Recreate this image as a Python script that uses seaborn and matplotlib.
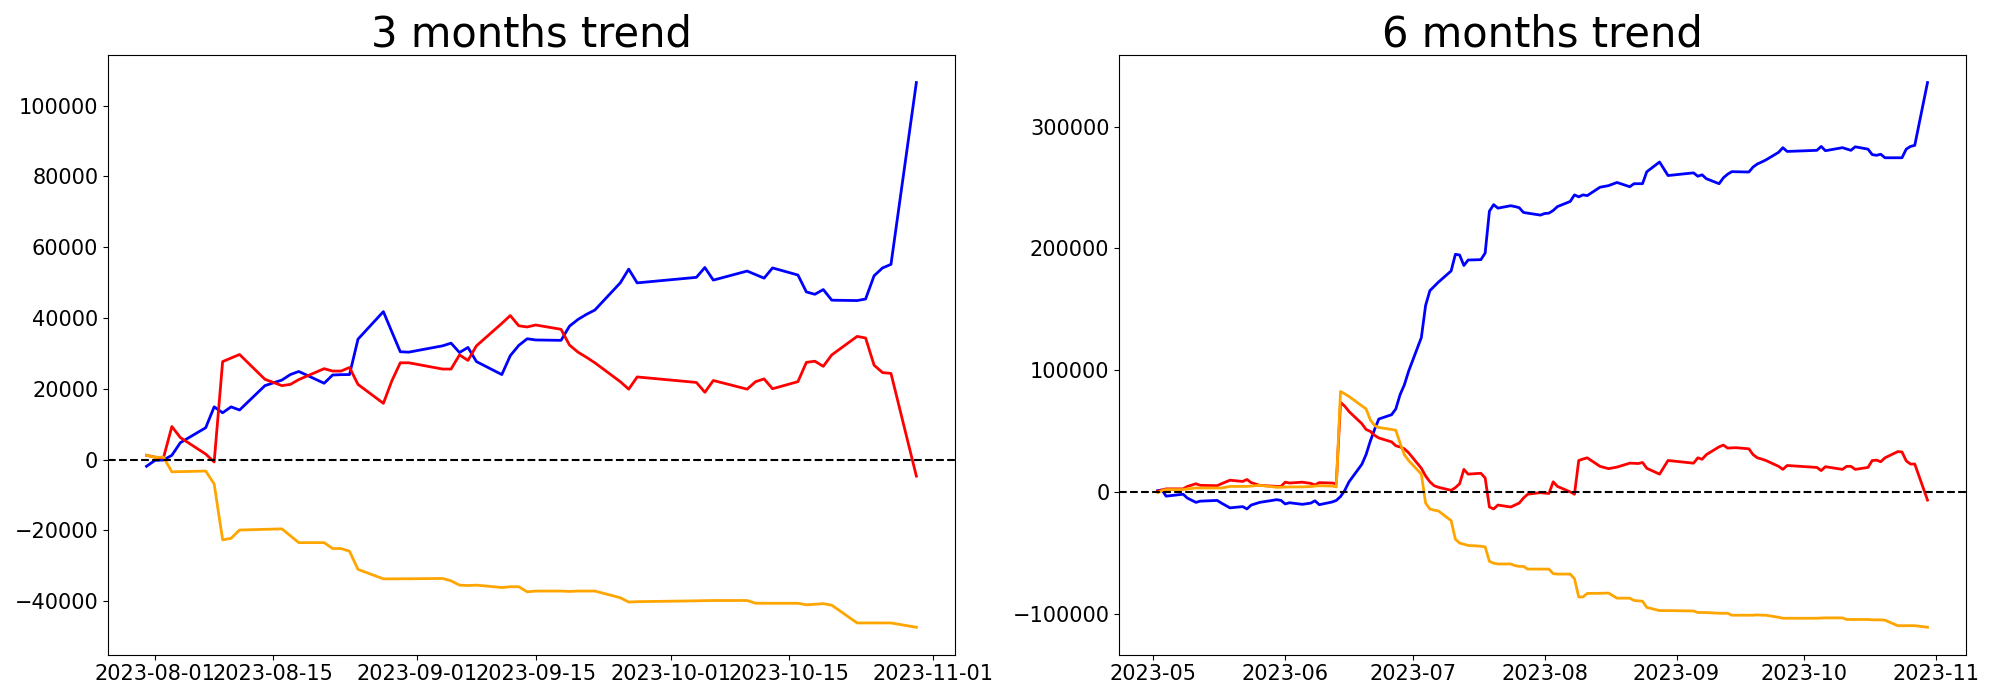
import pandas as pd
import matplotlib
matplotlib.use("Agg")
import matplotlib.pyplot as plt
import matplotlib.dates as mdates
import seaborn as sns

# 3 months window
three_dates = ["2023-07-31", "2023-08-01", "2023-08-02", "2023-08-03", "2023-08-04", "2023-08-07", "2023-08-08", "2023-08-09", "2023-08-10", "2023-08-11",
               "2023-08-14", "2023-08-16", "2023-08-17", "2023-08-18", "2023-08-21", "2023-08-22", "2023-08-23", "2023-08-24", "2023-08-25", "2023-08-28",
               "2023-08-29", "2023-08-30", "2023-08-31", "2023-09-04", "2023-09-05", "2023-09-06", "2023-09-07", "2023-09-08", "2023-09-11", "2023-09-12",
               "2023-09-13", "2023-09-14", "2023-09-15", "2023-09-18", "2023-09-19", "2023-09-20", "2023-09-21", "2023-09-22", "2023-09-25", "2023-09-26",
               "2023-09-27", "2023-10-04", "2023-10-05", "2023-10-06", "2023-10-10", "2023-10-11", "2023-10-12", "2023-10-13", "2023-10-16", "2023-10-17",
               "2023-10-18", "2023-10-19", "2023-10-20", "2023-10-23", "2023-10-24", "2023-10-25", "2023-10-26", "2023-10-27", "2023-10-30"]
three_blue = [-1890, -220, -110, 1220, 4780, 9010, 14900, 13230, 14900, 14010,
              20900, 22460, 24020, 24900, 21570, 23900, 24000, 24020, 34030, 41810,
              36100, 30470, 30360, 32140, 32900, 30250, 31690, 27690, 24020, 29360,
              32250, 34140, 33800, 33690, 37700, 39590, 41030, 42260, 49930, 53820,
              49930, 51490, 54270, 50710, 53270, 52260, 51260, 54150, 52150, 47370,
              46700, 48040, 45040, 44930, 45370, 51930, 54150, 55160, 106530]
three_red = [1220, 700, 450, 9340, 6230, 1560, -670, 27690, 28700, 29690,
             22680, 20900, 21240, 22600, 25690, 25020, 25020, 26020, 21240, 15900,
             22240, 27350, 27350, 25580, 25580, 29580, 28020, 32140, 38480, 40700,
             37810, 37470, 38030, 36810, 32360, 30360, 28910, 27350, 22020, 19900,
             23350, 21800, 19020, 22350, 19900, 22020, 22800, 20020, 22020, 27470,
             27800, 26350, 29580, 34810, 34360, 26690, 24580, 24350, -4670]
three_orange = [1220, 670, 670, -3450, -3400, -3230, -6890, -22680, -22240, -19900,
                -19700, -19570, -21500, -23460, -23460, -25130, -25130, -25910, -31020, -33690,
                -33690, -33680, -33680, -33580, -34250, -35470, -35580, -35470, -36140, -35920,
                -35920, -37360, -37140, -37140, -37250, -37140, -37140, -37140, -39030, -40250,
                -40140, -39900, -39850, -39810, -39810, -40590, -40590, -40590, -40590, -41030,
                -40870, -40700, -41140, -46150, -46150, -46150, -46150, -46150, -47370]

# 6 months window
six_dates = ["2023-05-02", "2023-05-03", "2023-05-04", "2023-05-08", "2023-05-09", "2023-05-11", "2023-05-12", "2023-05-16", "2023-05-17", "2023-05-19",
             "2023-05-22", "2023-05-23", "2023-05-24", "2023-05-26", "2023-05-30", "2023-05-31", "2023-06-01", "2023-06-02", "2023-06-05", "2023-06-07",
             "2023-06-08", "2023-06-09", "2023-06-12", "2023-06-13", "2023-06-14", "2023-06-15", "2023-06-16", "2023-06-19", "2023-06-20", "2023-06-21",
             "2023-06-22", "2023-06-23", "2023-06-26", "2023-06-27", "2023-06-28", "2023-06-29", "2023-06-30", "2023-07-03", "2023-07-04", "2023-07-05",
             "2023-07-06", "2023-07-07", "2023-07-10", "2023-07-11", "2023-07-12", "2023-07-13", "2023-07-14", "2023-07-17", "2023-07-18", "2023-07-19",
             "2023-07-20", "2023-07-21", "2023-07-24", "2023-07-25", "2023-07-26", "2023-07-27", "2023-07-28", "2023-07-31", "2023-08-01", "2023-08-02",
             "2023-08-03", "2023-08-04", "2023-08-07", "2023-08-08", "2023-08-09", "2023-08-10", "2023-08-11", "2023-08-14", "2023-08-16", "2023-08-18",
             "2023-08-21", "2023-08-22", "2023-08-23", "2023-08-24", "2023-08-25", "2023-08-28", "2023-08-30", "2023-09-05", "2023-09-06", "2023-09-07",
             "2023-09-08", "2023-09-11", "2023-09-12", "2023-09-13", "2023-09-14", "2023-09-15", "2023-09-18", "2023-09-19", "2023-09-20", "2023-09-21",
             "2023-09-22", "2023-09-25", "2023-09-26", "2023-09-27", "2023-10-04", "2023-10-05", "2023-10-06", "2023-10-10", "2023-10-11", "2023-10-12",
             "2023-10-13", "2023-10-16", "2023-10-17", "2023-10-18", "2023-10-19", "2023-10-20", "2023-10-23", "2023-10-24", "2023-10-25", "2023-10-26",
             "2023-10-27", "2023-10-30"]
six_blue = [1000, 1600, -3500, -1900, -5100, -8600, -7600, -7000, -9200, -13100,
            -12100, -14000, -10800, -8600, -6400, -7000, -9900, -8900, -10200, -9200,
            -7300, -10500, -8300, -7000, -3800, 1300, 8300, 22600, 30600, 41700,
            51300, 59900, 63400, 68200, 79900, 87900, 99100, 126800, 153200, 165300,
            168800, 172300, 181500, 195200, 194600, 186000, 190500, 190800, 196200, 230600,
            236000, 233100, 235100, 234400, 233500, 229600, 229000, 227400, 228700, 229000,
            231200, 234400, 238600, 244000, 242400, 244000, 243400, 250300, 251600, 254200,
            250700, 253200, 253200, 253200, 263000, 271000, 259900, 262100, 259300, 260500,
            257300, 253200, 258000, 261000, 263100, 263000, 262800, 266900, 269400, 271000,
            272700, 279000, 282800, 279700, 280600, 283800, 280300, 282800, 281700, 280600,
            283500, 281600, 277100, 276500, 277400, 274500, 274500, 274500, 281600, 283800,
            284700, 336300]
six_red = [600, 1500, 2500, 2500, 4500, 6700, 5400, 5100, 6700, 9600,
           8600, 10200, 7600, 5400, 4500, 4500, 8000, 7300, 8000, 7000,
           5700, 7600, 7300, 6700, 73600, 70400, 66000, 56100, 51300, 49700,
           46500, 44300, 41100, 37900, 36900, 35400, 32200, 19400, 13100, 8300,
           5100, 3800, 1300, 3500, 6700, 18500, 14600, 15300, 11500, -12400,
           -14000, -10800, -12400, -10800, -9200, -5100, -1900, -600, -1000, -1300,
           8300, 4500, 0, -1900, 25800, 27000, 28000, 21000, 19100, 20400,
           23600, 23500, 23300, 24200, 19400, 14600, 25800, 23600, 28000, 26800,
           30600, 37000, 38500, 36000, 36200, 36300, 35400, 30600, 28000, 27000,
           25800, 21000, 18500, 21700, 20100, 17500, 20700, 18500, 21000, 21000,
           18500, 20100, 25800, 26100, 24800, 28000, 33100, 32800, 25500, 22900,
           22900, -6700]
six_orange = [-600, 1000, 1900, 1900, 2500, 3200, 3200, 3200, 3200, 4500,
              4500, 4500, 4800, 5400, 3800, 3800, 4000, 4100, 4100, 4400,
              4800, 5100, 4800, 4100, 82500, 80500, 78400, 70700, 68200, 59200,
              54500, 52900, 51300, 50600, 40100, 30600, 25800, 14600, -9200, -14000,
              -15000, -15600, -23600, -38900, -42000, -43000, -44000, -44600, -45200, -57000,
              -58600, -59200, -59200, -60500, -61200, -61200, -63400, -63400, -63400, -63400,
              -67200, -67500, -67500, -71300, -86300, -86300, -83400, -83300, -83100, -87300,
              -87300, -89200, -89500, -89800, -94900, -97500, -97500, -97800, -99100, -99100,
              -99100, -99700, -99700, -99700, -101300, -101300, -101300, -101300, -101000, -101300,
              -101300, -103000, -103800, -103800, -103800, -103600, -103500, -103500, -104800, -104800,
              -104800, -104800, -105100, -105100, -105100, -105400, -109900, -109900, -109900, -109900,
              -109900, -111200]


def draw_trend(ax, dates, blue, red, orange, title):
    x = pd.to_datetime(dates)
    sns.lineplot(x=x, y=blue, color="blue", linewidth=2, ax=ax)
    sns.lineplot(x=x, y=red, color="red", linewidth=2, ax=ax)
    sns.lineplot(x=x, y=orange, color="orange", linewidth=2, ax=ax)
    ax.axhline(0, color="black", linestyle="--", linewidth=1.5)
    ax.set_title(title, fontsize=30)
    ax.set_xlabel("")
    ax.set_ylabel("")
    ax.tick_params(labelsize=15)


fig, axes = plt.subplots(1, 2, figsize=(20, 7))
fig.subplots_adjust(left=0.054, right=0.983, bottom=0.065, top=0.921, wspace=0.194)

draw_trend(axes[0], three_dates, three_blue, three_red, three_orange, "3 months trend")
axes[0].xaxis.set_major_locator(mdates.DayLocator(bymonthday=[1, 15]))
axes[0].xaxis.set_major_formatter(mdates.DateFormatter("%Y-%m-%d"))

draw_trend(axes[1], six_dates, six_blue, six_red, six_orange, "6 months trend")
axes[1].xaxis.set_major_locator(mdates.MonthLocator())
axes[1].xaxis.set_major_formatter(mdates.DateFormatter("%Y-%m"))

plt.savefig("out.png", dpi=100)
